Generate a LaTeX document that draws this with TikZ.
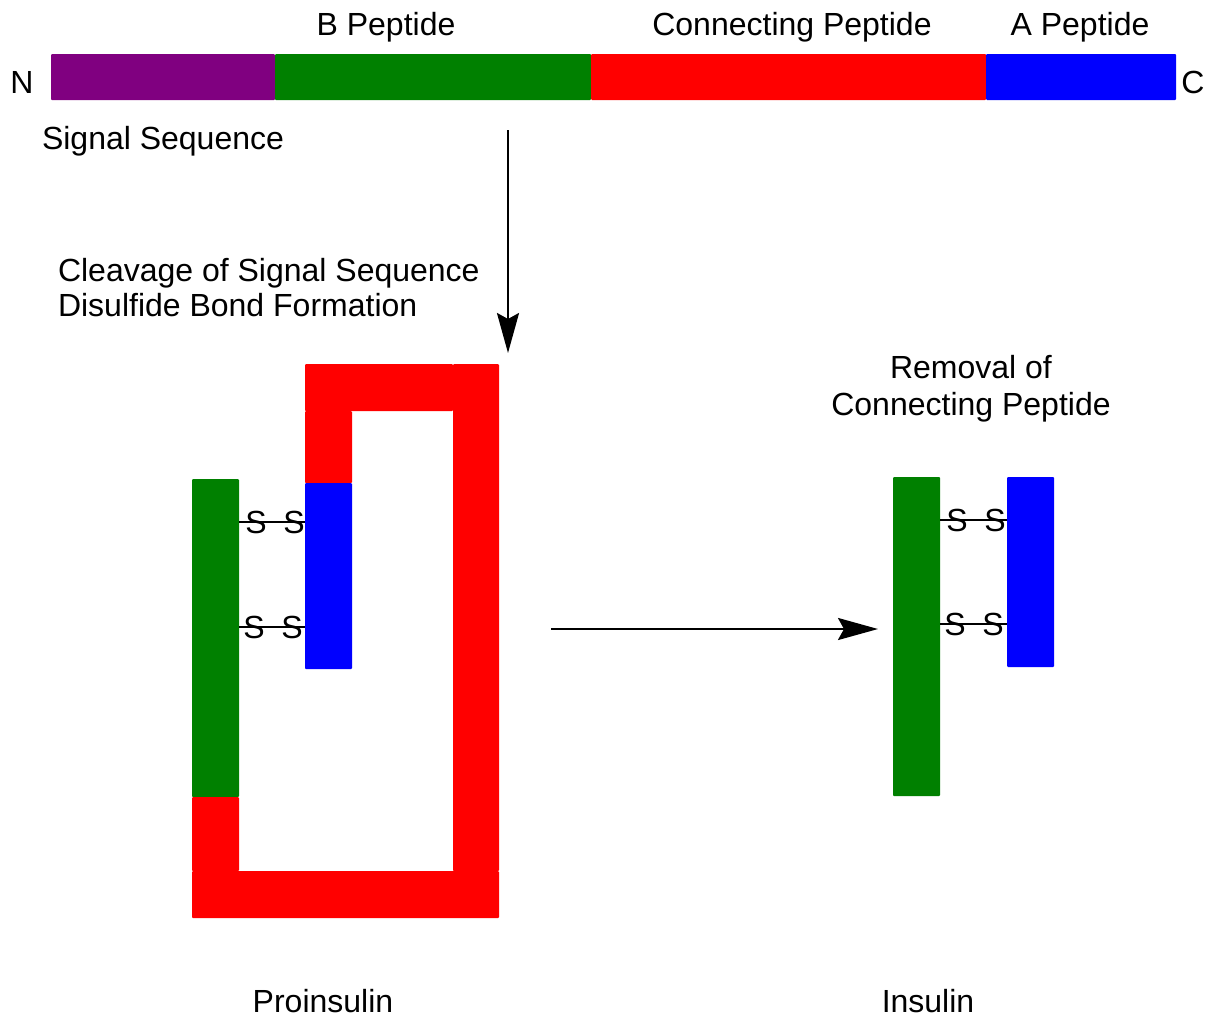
\documentclass[tikz,border=0pt]{standalone}
\usepackage{fontspec}
\setmainfont{Liberation Sans}
\usepackage{tikz}
\usetikzlibrary{arrows.meta, positioning, calc}

\definecolor{sigpurple}{RGB}{128,0,128}
\definecolor{chaingreen}{RGB}{0,128,0}
\definecolor{chainred}{RGB}{255,0,0}
\definecolor{chainblue}{RGB}{0,0,255}

\begin{document}
\begin{tikzpicture}[
  x=1pt, y=-1pt,
  every node/.style={font=\fontsize{32}{36}\selectfont, inner sep=0pt, outer sep=0pt},
  seg/.style={rectangle, anchor=north west, draw=none, rounded corners=1pt,
    minimum height=47pt, minimum width=47pt},
  signal/.style={seg, fill=sigpurple},
  bchain/.style={seg, fill=chaingreen},
  cchain/.style={seg, fill=chainred},
  achain/.style={seg, fill=chainblue},
  lbl/.style={anchor=base},
  sulf/.style={anchor=base},
  bond/.style={line width=2pt},
  arrow/.style={-{Stealth[length=40pt, width=22pt, inset=6pt]}, line width=2.5pt}
]
\useasboundingbox (0,0) rectangle (1213,1018);

% precursor chain
\node[signal, minimum width=224pt, minimum height=46pt] (sig) at (51,54) {};
\node[bchain, minimum width=316pt, minimum height=46pt] (bpep) at (275,54) {};
\node[cchain, minimum width=395pt, minimum height=46pt] (cpep) at (591,54) {};
\node[achain, minimum width=190pt, minimum height=46pt] (apep) at (986,54) {};

\node[lbl] (nterm) at (22,93.5) {N};
\node[lbl] (cterm) at (1193,93.5) {C};
\node[lbl] (blbl) at (386,35.5) {B Peptide};
\node[lbl] (clbl) at (792,35.5) {Connecting Peptide};
\node[lbl] (albl) at (1080,35.5) {A Peptide};
\node[lbl] (siglbl) at (163,149.5) {Signal Sequence};

\node[anchor=base west, align=left, font=\fontsize{32}{35}\selectfont] (cleave) at (58,316.5)
  {Cleavage of Signal Sequence\\Disulfide Bond Formation};

% proinsulin
\node[bchain, minimum height=318pt] (proB) at (192,479) {};
\node[cchain, minimum height=74pt] (proC1) at (192,797) {};
\node[cchain, minimum width=307pt] (proCbot) at (192,871) {};
\node[cchain, minimum width=46pt, minimum height=507pt] (proCright) at (453,364) {};
\node[cchain, minimum width=148pt] (proCtop) at (305,364) {};
\node[cchain, minimum height=72pt] (proCup) at (305,411) {};
\node[achain, minimum height=186pt] (proA) at (305,483) {};

\draw[bond] ([yshift=-43pt]proB.north east) -- ([yshift=-43pt]proB.north east -| proA.west);
\draw[bond] ([yshift=-148pt]proB.north east) -- ([yshift=-148pt]proB.north east -| proA.west);
\node[sulf] (ps1) at (256,533.5) {S};
\node[sulf] (ps2) at (294,533.5) {S};
\node[sulf] (ps3) at (254,638.5) {S};
\node[sulf] (ps4) at (292,638.5) {S};

\node[lbl] (prolbl) at (323,1012.5) {Proinsulin};

% insulin
\node[bchain, minimum height=319pt] (insB) at (893,477) {};
\node[achain, minimum height=190pt] (insA) at (1007,477) {};

\draw[bond] ([yshift=-43pt]insB.north east) -- ([yshift=-43pt]insB.north east -| insA.west);
\draw[bond] ([yshift=-147pt]insB.north east) -- ([yshift=-147pt]insB.north east -| insA.west);
\node[sulf] (is1) at (957,531.5) {S};
\node[sulf] (is2) at (995,531.5) {S};
\node[sulf] (is3) at (955,635.5) {S};
\node[sulf] (is4) at (993,635.5) {S};

\node[lbl, align=center, font=\fontsize{32}{37}\selectfont] (removal) at (971,415.5)
  {Removal of\\Connecting Peptide};
\node[lbl] (inslbl) at (928,1012.5) {Insulin};

% steps
\coordinate (down1) at (508,130);
\coordinate (down2) at (508,353);
\coordinate (right1) at (551,629);
\coordinate (right2) at (878,629);
\draw[arrow] (down1) -- (down2);
\draw[arrow] (right1) -- (right2);
\end{tikzpicture}
\end{document}
